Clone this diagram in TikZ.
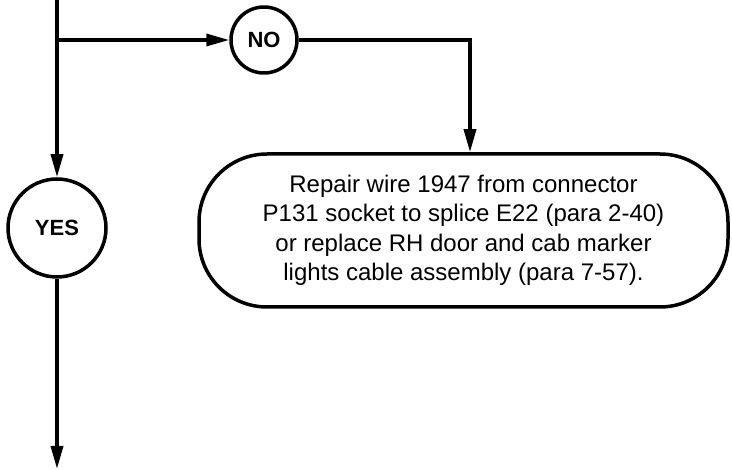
\documentclass[tikz,border=0pt]{standalone}
\usepackage{fontspec}
\setmainfont{Liberation Sans}
\usetikzlibrary{arrows.meta}
\begin{document}
\begin{tikzpicture}[x=1pt,y=-1pt,
  arr/.style={line width=3.5pt,-{Triangle[length=23pt,width=12pt]}},
  dec/.style={draw,circle,line width=3.5pt,inner sep=0pt,font=\fontsize{22pt}{26pt}\selectfont\bfseries},
  actbox/.style={draw,line width=3.5pt,rounded corners=68pt,minimum width=529pt,minimum height=153pt,align=center,inner sep=0pt,font=\fontsize{24pt}{29.5pt}\selectfont}]
\useasboundingbox (0,0) rectangle (732,470);
\coordinate (top) at (57,0);
\coordinate (split) at (57,40);
\coordinate (bot) at (57,469);
\node[dec,minimum size=66pt] (no) at (264,40) {NO};
\node[dec,minimum size=98pt] (yes) at (57,228) {YES};
\node[actbox] (box) at (463.5,230.5) {Repair wire 1947 from connector\\P131 socket to splice E22 (para 2-40)\\or replace RH door and cab marker\\lights cable assembly (para 7-57).};
\draw[arr] (top) -- (yes.north);
\draw[arr] (split) -- (no.west);
\draw[arr] (no.east) -| ([xshift=6.5pt]box.north);
\draw[arr] (yes.south) -- (bot);
\end{tikzpicture}
\end{document}
